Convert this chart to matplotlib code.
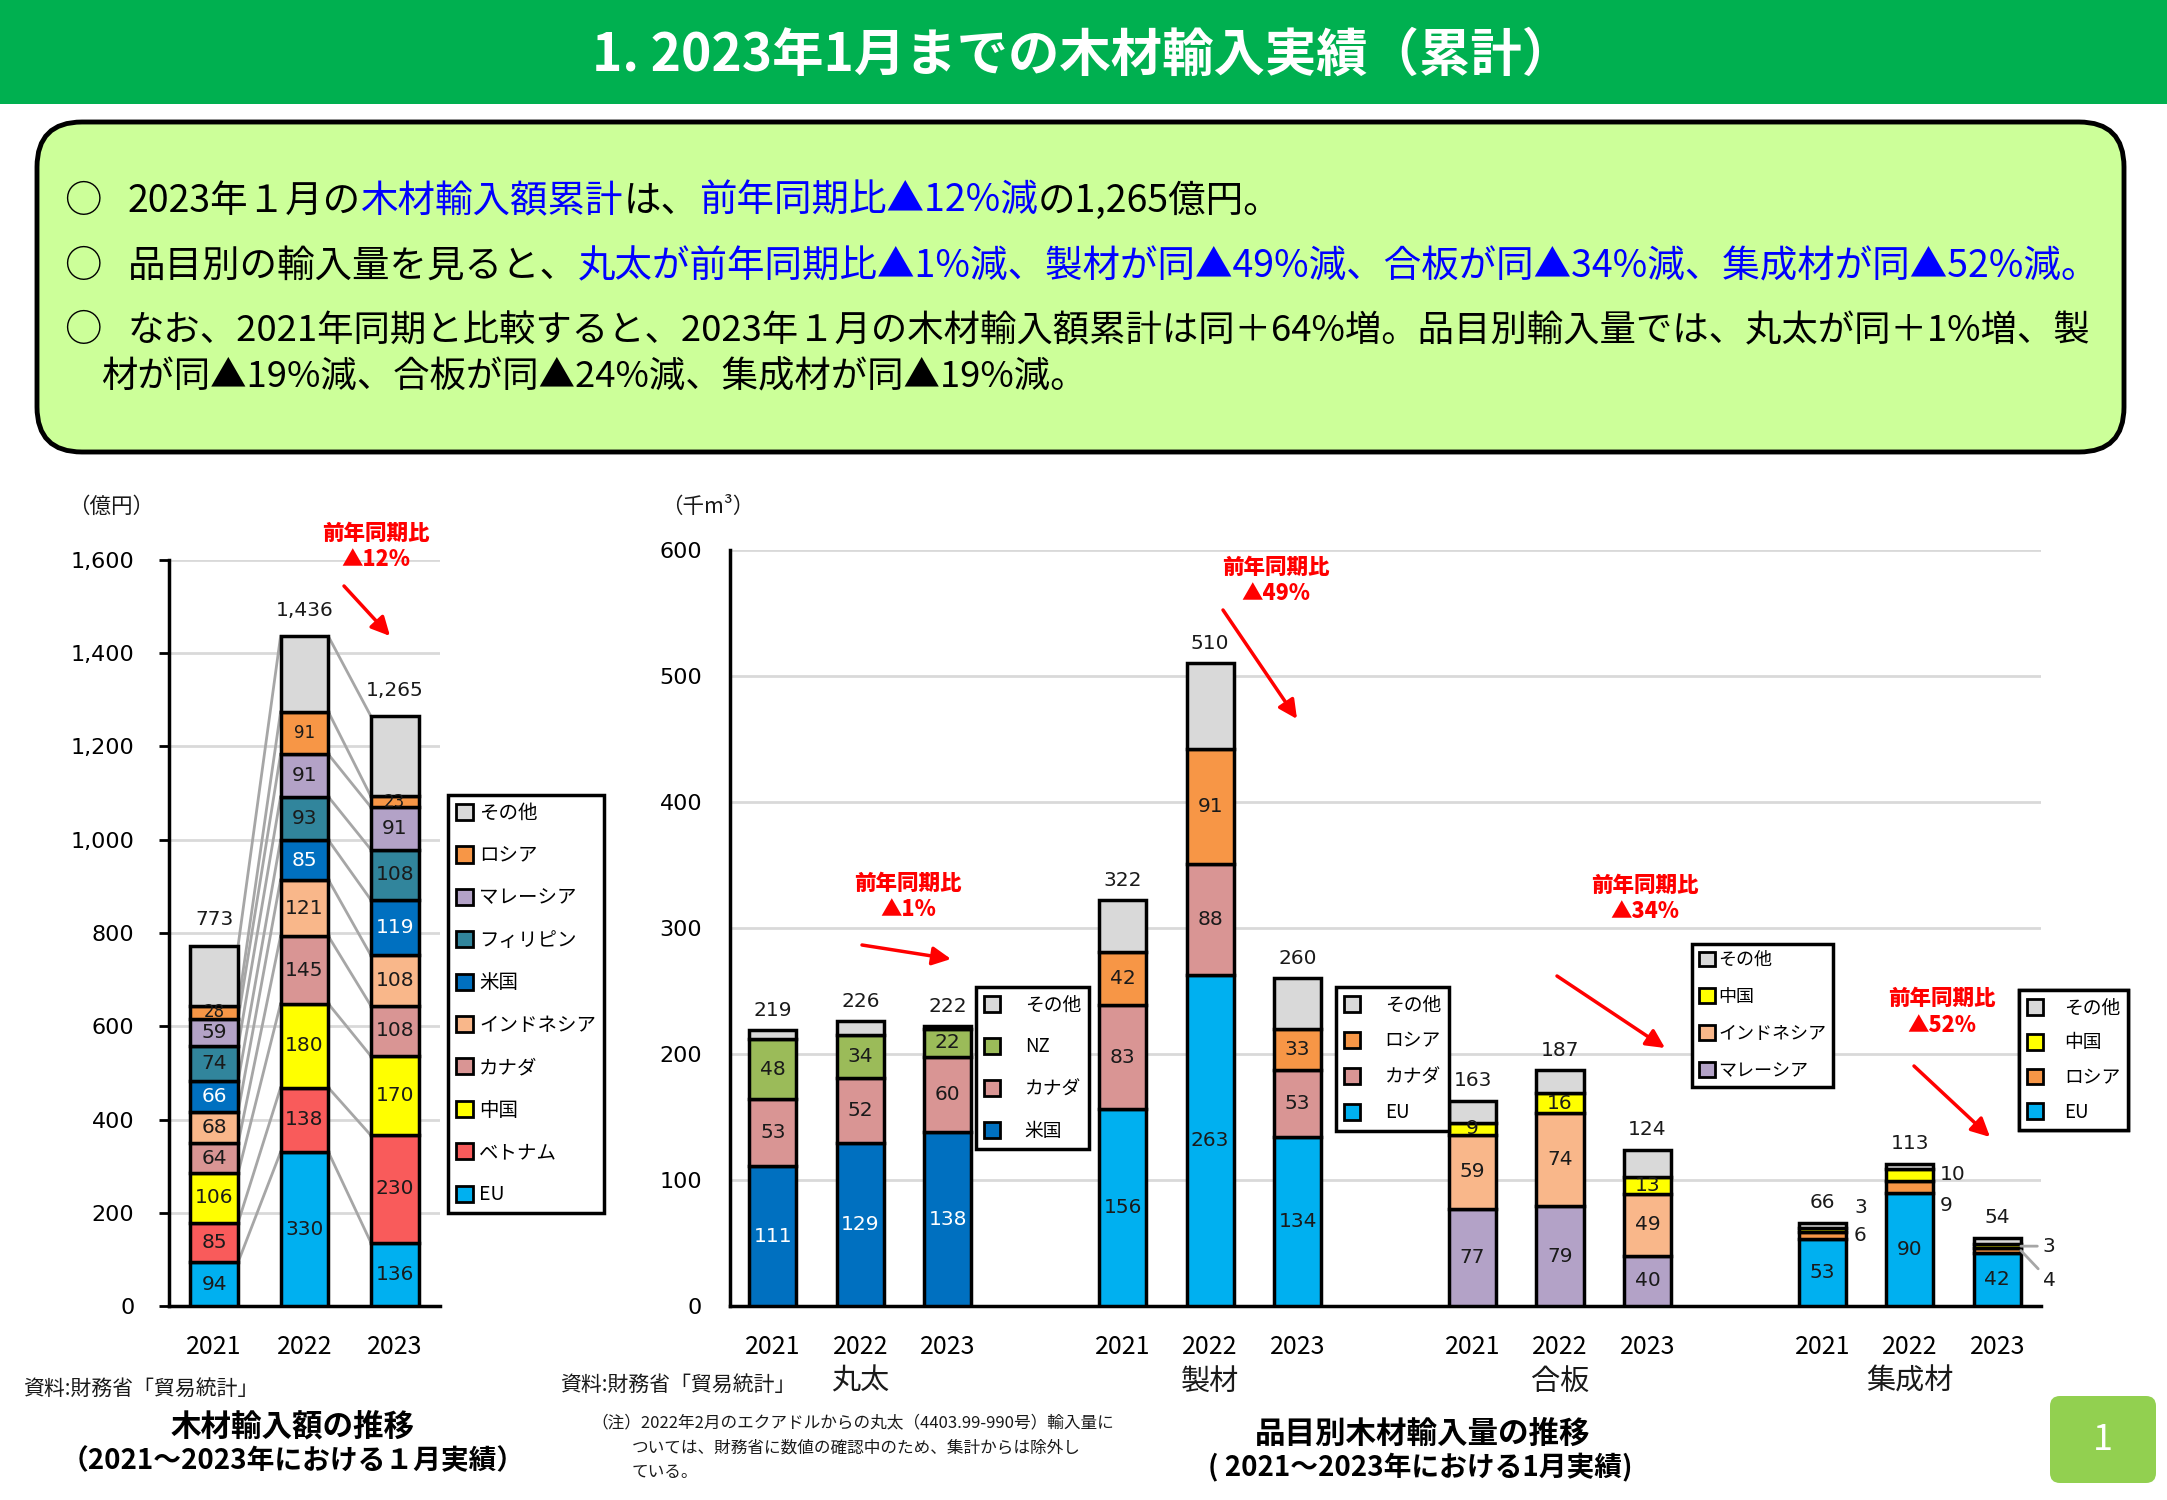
import numpy as np
import matplotlib.pyplot as plt
from matplotlib.patches import FancyBboxPatch, Patch, Rectangle
from matplotlib.transforms import blended_transform_factory

plt.rcParams['font.family'] = ['Noto Sans CJK JP', 'DejaVu Sans']

W, H = 2167, 1500

# ---- 木材輸入額 (億円), stacked bottom -> top
years = ['2021', '2022', '2023']
amt_names = ['EU', 'ベトナム', '中国', 'カナダ', 'インドネシア', '米国', 'フィリピン', 'マレーシア', 'ロシア', 'その他']
amt_eu = [94, 330, 136]
amt_vn = [85, 138, 230]
amt_cn = [106, 180, 170]
amt_ca = [64, 145, 108]
amt_id = [68, 121, 108]
amt_us = [66, 85, 119]
amt_ph = [74, 93, 108]
amt_my = [59, 91, 91]
amt_ru = [28, 91, 23]
amt_other = [129, 162, 172]
amt_total = [773, 1436, 1265]

# ---- 品目別木材輸入量 (千m3)
products = ['丸太', '製材', '合板', '集成材']
log_names = ['米国', 'カナダ', 'NZ', 'その他']
log_us = [111, 129, 138]
log_ca = [53, 52, 60]
log_nz = [48, 34, 22]
log_other = [7, 11, 2]
log_total = [219, 226, 222]

lum_names = ['EU', 'カナダ', 'ロシア', 'その他']
lum_eu = [156, 263, 134]
lum_ca = [83, 88, 53]
lum_ru = [42, 91, 33]
lum_other = [41, 68, 40]
lum_total = [322, 510, 260]

ply_names = ['マレーシア', 'インドネシア', '中国', 'その他']
ply_my = [77, 79, 40]
ply_id = [59, 74, 49]
ply_cn = [9, 16, 13]
ply_other = [18, 18, 22]
ply_total = [163, 187, 124]

glu_names = ['EU', 'ロシア', '中国', 'その他']
glu_eu = [53, 90, 42]
glu_ru = [6, 9, 4]
glu_cn = [3, 10, 3]
glu_other = [4, 4, 5]
glu_total = [66, 113, 54]

yoy = ['▲12%', '▲1%', '▲49%', '▲34%', '▲52%']

colors = {'EU': '#00B0F0', 'ベトナム': '#F95B5B', '中国': '#FFFF00', 'カナダ': '#D99594',
          'インドネシア': '#F9B78A', '米国': '#0070C0', 'フィリピン': '#31859C',
          'マレーシア': '#B3A2C7', 'ロシア': '#F79646', 'その他': '#D9D9D9', 'NZ': '#9BBB59'}
NUM = ['DejaVu Sans']
TXT = '#1a1a1a'

fig = plt.figure(figsize=(W / 100, H / 100), dpi=100)
bg = fig.add_axes([0, 0, 1, 1], zorder=-5)
bg.set_xlim(0, W); bg.set_ylim(H, 0); bg.axis('off')


def px_axes(x0, y0, x1, y1):
    a = fig.add_axes([x0 / W, 1 - y1 / H, (x1 - x0) / W, (y1 - y0) / H])
    a.set_facecolor('none')
    for s in ['top', 'right']:
        a.spines[s].set_visible(False)
    for s in ['left', 'bottom']:
        a.spines[s].set_linewidth(2.5)
    return a


def stack(ax, xs, series, names, width, fs=14.5, skip=('その他',), small=()):
    bottom = np.zeros(len(xs))
    tops = []
    for vals, name in zip(series, names):
        vals = np.array(vals, float)
        ax.bar(xs, vals, width, bottom=bottom, color=colors[name],
               edgecolor='black', linewidth=2.5, zorder=3)
        if name not in skip:
            for x, b, v in zip(xs, bottom, vals):
                ax.text(x, b + v / 2, f'{int(v)}', ha='center', va='center',
                        fontsize=(12 if name in small else fs), family=NUM,
                        color='white' if name == '米国' else TXT, zorder=4)
        bottom = bottom + vals
        tops.append(bottom.copy())
    return tops


# ================= left chart =================
ax1 = px_axes(169, 560, 440, 1306)
xs1 = np.arange(3)
w1 = 0.53
tops1 = stack(ax1, xs1, [amt_eu, amt_vn, amt_cn, amt_ca, amt_id, amt_us, amt_ph, amt_my, amt_ru, amt_other],
              amt_names, w1, small=('ロシア',))
for i in range(2):
    for t in tops1:
        ax1.plot([xs1[i] + w1 / 2, xs1[i + 1] - w1 / 2], [t[i], t[i + 1]], color='#A6A6A6', lw=2, zorder=2)
for x, t in zip(xs1, amt_total):
    ax1.annotate(f'{t:,}', (x, t), xytext=(0, 26), textcoords='offset pixels', ha='center', va='center',
                 fontsize=14.5, family=NUM, color=TXT)
ax1.set_xlim(-0.5, 2.5)
ax1.set_ylim(0, 1600)
ax1.set_yticks(range(0, 1601, 200))
ax1.set_yticklabels([f'{v:,}' for v in range(0, 1601, 200)], fontfamily=NUM, fontsize=16)
ax1.set_xticks(xs1, years, fontsize=18)
ax1.tick_params(axis='y', length=7, width=2, pad=18)
ax1.tick_params(axis='x', length=0, pad=20)
ax1.yaxis.grid(True, color='#D9D9D9', lw=2, zorder=0)
ax1.set_axisbelow(True)

# ================= right chart =================
ax2 = px_axes(730, 550, 2041, 1306)
w2 = 0.54
groups = [
    ([log_us, log_ca, log_nz, log_other], log_names, log_total),
    ([lum_eu, lum_ca, lum_ru, lum_other], lum_names, lum_total),
    ([ply_my, ply_id, ply_cn, ply_other], ply_names, ply_total),
    ([glu_eu, glu_ru, glu_cn, glu_other], glu_names, glu_total),
]
xt, xl = [], []
for g, (ser, names, tot) in enumerate(groups):
    xs = np.arange(3) + 4 * g
    skip = ('その他',) if g < 3 else ('その他', 'ロシア', '中国')
    tops = stack(ax2, xs, ser, names, w2, skip=skip)
    for x, t in zip(xs, tot):
        ax2.annotate(f'{t}', (x, t), xytext=(0, 20), textcoords='offset pixels', ha='center', va='center',
                     fontsize=14.5, family=NUM, color=TXT)
    xt += list(xs); xl += years
    ax2.text(4 * g + 1, -0.1005, products[g], transform=blended_transform_factory(ax2.transData, ax2.transAxes),
             ha='center', va='center', fontsize=21, color=TXT)
    if g == 3:
        # small values written beside the bars
        offs = [((8, 22), (8, 0)), ((6, 0), (6, -19)), ((22, 0), (22, -30))]
        for i, x in enumerate(xs):
            b_ru = glu_eu[i]
            b_cn = b_ru + glu_ru[i]
            for (dx, dy), v, mid in [(offs[i][0], glu_cn[i], b_cn + glu_cn[i] / 2),
                                     (offs[i][1], glu_ru[i], b_ru + glu_ru[i] / 2)]:
                ap = dict(arrowstyle='-', color='#A6A6A6', lw=2, shrinkA=2, shrinkB=0) if i == 2 else None
                ax2.annotate(f'{v}', (x + w2 / 2, mid), xytext=(dx, dy), textcoords='offset pixels',
                             ha='left', va='center', fontsize=14.5, family=NUM, color=TXT, arrowprops=ap)
ax2.set_xlim(-0.49, 14.5)
ax2.set_ylim(0, 600)
ax2.set_yticks(range(0, 601, 100))
ax2.set_yticklabels([str(v) for v in range(0, 601, 100)], fontfamily=NUM, fontsize=16)
ax2.set_xticks(xt, xl, fontsize=18)
ax2.tick_params(axis='y', length=0, pad=20)
ax2.tick_params(axis='x', length=0, pad=20)
ax2.yaxis.grid(True, color='#D9D9D9', lw=2, zorder=0)
ax2.set_axisbelow(True)

# ================= header and summary box =================
bg.add_patch(Rectangle((0, 0), W, 104, color='#00B050', lw=0))
bg.text(1083, 55, '1. 2023年1月までの木材輸入実績（累計）', color='white', fontsize=37,
        fontweight='bold', ha='center', va='center')
bg.add_patch(FancyBboxPatch((37, 122), 2087, 330, boxstyle='round,pad=0,rounding_size=45',
                            facecolor='#CCFF99', edgecolor='black', lw=3.5))

rend = fig.canvas.get_renderer()


def runs(x, y, parts, fs=27):
    for s, c in parts:
        t = bg.text(x, y, s, color=c, fontsize=fs, va='baseline', ha='left')
        x += t.get_window_extent(renderer=rend).width


K, B = '#000000', '#0000FF'
for y in [212, 277, 341]:
    bg.text(83, y, '○', fontsize=27, ha='center', va='baseline', color=K)
runs(128, 212, [('2023年１月の', K), ('木材輸入額累計', B), ('は、', K), ('前年同期比▲12%減', B), ('の1,265億円。', K)])
runs(128, 277, [('品目別の輸入量を見ると、', K),
                ('丸太が前年同期比▲1%減、製材が同▲49%減、合板が同▲34%減、集成材が同▲52%減。', B)])
runs(128, 341, [('なお、2021年同期と比較すると、2023年１月の木材輸入額累計は同＋64%増。品目別輸入量では、丸太が同＋1%増、製', K)], fs=26.2)
runs(101, 387, [('材が同▲19%減、合板が同▲24%減、集成材が同▲19%減。', K)], fs=26.2)

# ================= overlay texts, arrows, legends =================
fg = fig.add_axes([0, 0, 1, 1], zorder=10)
fg.set_xlim(0, W); fg.set_ylim(H, 0); fg.axis('off')

fg.text(111, 507, '（億円）', fontsize=15.5, ha='center', va='center', color=TXT)
fg.text(708, 507, '（千m³）', fontsize=15.5, ha='center', va='center', color=TXT)

notes = [(376, 533, (344, 586), (390, 636)),
         (908, 883, (862, 945), (951, 959)),
         (1276, 567, (1223, 610), (1297, 719)),
         (1645, 885, (1557, 976), (1665, 1048)),
         (1942, 998, (1914, 1066), (1990, 1137))]
for (tx, ty, a0, a1), lab in zip(notes, yoy):
    fg.text(tx, ty, '前年同期比', color='red', fontsize=15.5, fontweight='heavy', ha='center', va='center')
    fg.text(tx, ty + 27, lab, color='red', fontsize=15.5, fontweight='heavy', ha='center', va='center')
    fg.annotate('', xy=a1, xytext=a0, arrowprops=dict(arrowstyle='-|>', color='red', lw=2.5,
                                                       mutation_scale=28, shrinkA=0, shrinkB=0))


def legend_at(names, x, y, fs=13.5, ls=0.8, tp=0.4):
    hs = [Patch(facecolor=colors[n], edgecolor='black', linewidth=2) for n in names]
    lg = fg.legend(hs, names, loc='upper left', bbox_to_anchor=(x, y), bbox_transform=fg.transData,
                   fontsize=fs, labelspacing=ls, handlelength=0.9, handleheight=0.9, handletextpad=tp,
                   borderpad=0.4, borderaxespad=0, frameon=True, fancybox=False, edgecolor='black',
                   framealpha=1)
    lg.get_frame().set_linewidth(2.5)
    fg.add_artist(lg)


legend_at(amt_names[::-1], 448, 795, fs=14, ls=1.1, tp=0.3)
legend_at(log_names[::-1], 976, 987, ls=1.12, tp=1.3)
legend_at(lum_names[::-1], 1336, 987, ls=0.8, tp=1.3)
legend_at(ply_names[::-1], 1692, 944, fs=13, ls=1.05, tp=0.15)
legend_at(glu_names[::-1], 2019, 990, ls=0.73, tp=1.1)

# ================= footers =================
fg.text(23, 1389, '資料:財務省「貿易統計」', fontsize=15, ha='left', va='center', color=TXT)
fg.text(293, 1426, '木材輸入額の推移', fontsize=22, fontweight='bold', ha='center', va='center', color=K)
fg.text(293, 1461, '（2021～2023年における１月実績）', fontsize=20, fontweight='bold', ha='center', va='center', color=K)
fg.text(560, 1385, '資料:財務省「貿易統計」', fontsize=15, ha='left', va='center', color=TXT)
fg.text(591, 1423, '（注）2022年2月のエクアドルからの丸太（4403.99-990号）輸入量に', fontsize=12, ha='left', va='center', color=TXT)
fg.text(632, 1448, 'ついては、財務省に数値の確認中のため、集計からは除外し', fontsize=12, ha='left', va='center', color=TXT)
fg.text(632, 1472, 'ている。', fontsize=12, ha='left', va='center', color=TXT)
fg.text(1423, 1434, '品目別木材輸入量の推移', fontsize=22, fontweight='bold', ha='center', va='center', color=K)
fg.text(1420, 1468, '( 2021～2023年における1月実績)', fontsize=20, fontweight='bold', ha='center', va='center', color=K)

fg.add_patch(FancyBboxPatch((2050, 1396), 106, 87, boxstyle='round,pad=0,rounding_size=10',
                            facecolor='#92D050', edgecolor='none'))
fg.text(2103, 1440, '1', color='white', fontsize=26, ha='center', va='center')

fig.savefig('out.png', dpi=100)
